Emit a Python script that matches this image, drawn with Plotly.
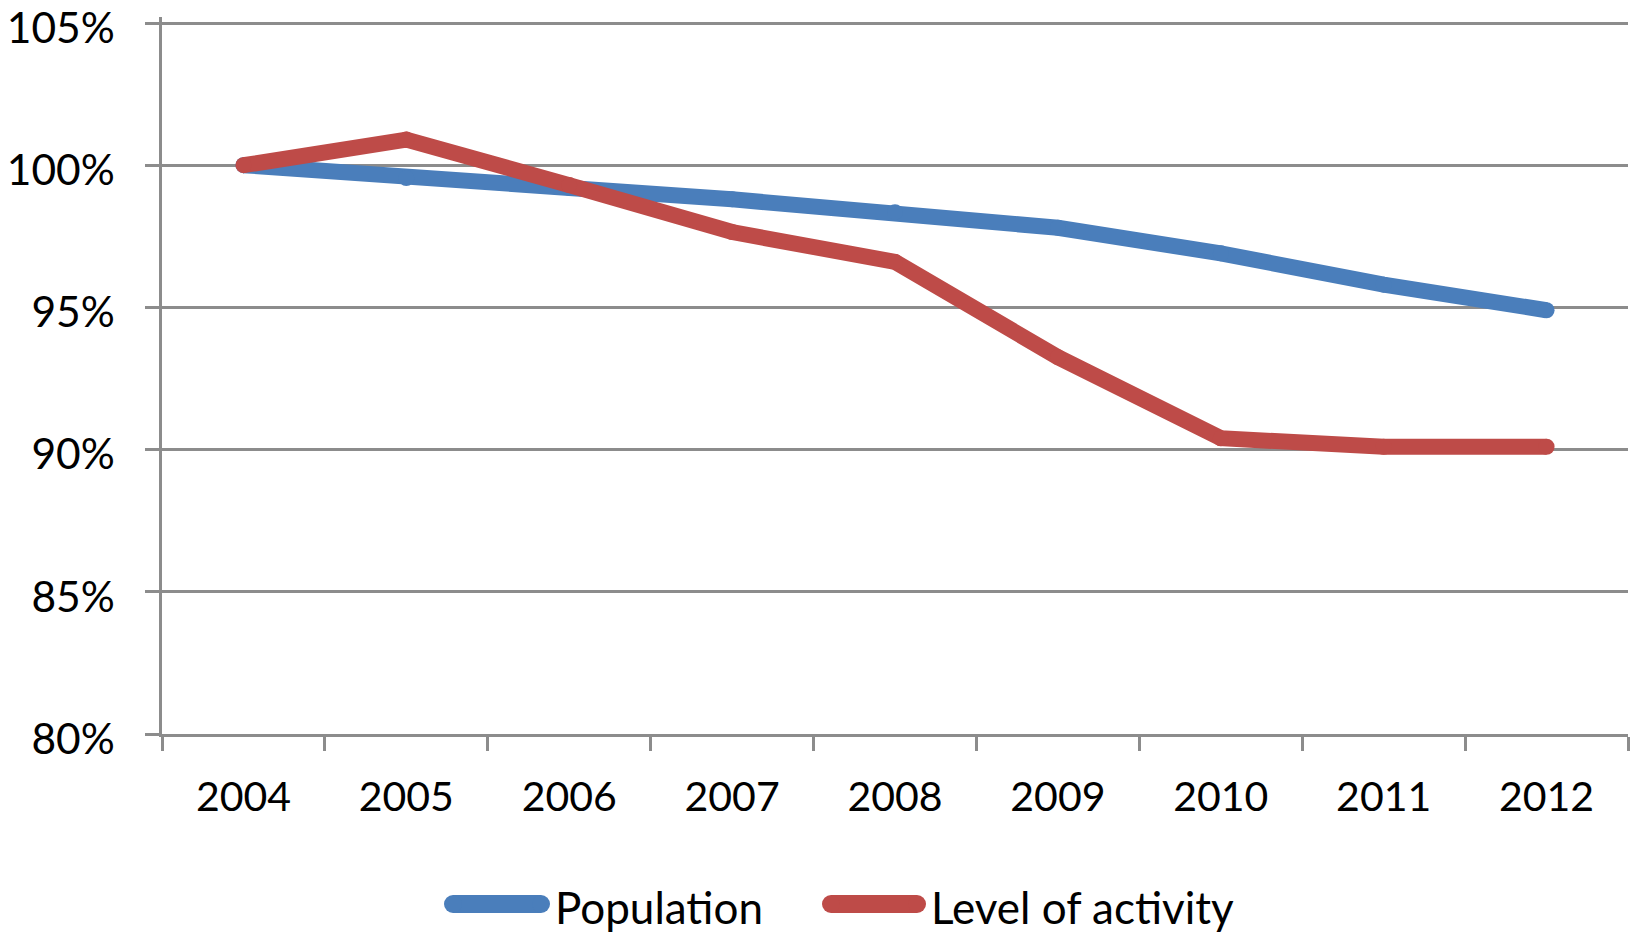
import plotly.graph_objects as go

years = ["2004", "2005", "2006", "2007", "2008", "2009", "2010", "2011", "2012"]
population = [100.0, 99.55, 99.2, 98.8, 98.35, 97.8, 96.9, 95.8, 94.9]
activity = [100.0, 100.9, 99.3, 97.65, 96.6, 93.25, 90.4, 90.1, 90.1]
y_ticks = [80, 85, 90, 95, 100, 105]

BLUE = "#4a7ebb"
RED = "#be4b48"
GRID = "#8c8c8c"
FONT = "Lato"

W, H = 1637, 932
Y_TOP_PX, Y_BOT_PX = 23, 734          # pixel rows of the 105% and 80% gridlines
L, R, T, B = 162, 9, 17, H - 734
PW, PH = W - L - R, H - T - B
ppu = (Y_BOT_PX - Y_TOP_PX) / (y_ticks[-1] - y_ticks[0])
y_max = y_ticks[-1] + (Y_TOP_PX - T) / ppu


def px_x(px):
    return (px - L) / PW


def px_y(py):
    return (H - B - py) / PH


fig = go.Figure()
series = [("Population", population, BLUE), ("Level of activity", activity, RED)]
for name, vals, col in series:
    fig.add_trace(go.Scatter(
        x=years, y=vals, name=name, mode="lines+markers",
        line=dict(color=col, width=16),
        marker=dict(color=col, size=16, line=dict(width=0)),
        showlegend=False, hoverinfo="skip",
    ))

# custom legend (thick rounded line symbols + text)
legend_items = [(444, 550, 553), (822, 926, 929)]
leg_y = 904
shapes = []
annotations = []
for (x0, x1, tx), (name, _, col) in zip(legend_items, series):
    shapes.append(dict(type="line", xref="paper", yref="paper",
                       x0=px_x(x0 + 9), x1=px_x(x1 - 9), y0=px_y(leg_y), y1=px_y(leg_y),
                       line=dict(color=col, width=18), layer="above"))
    for cx in (x0 + 9, x1 - 9):
        shapes.append(dict(type="circle", xref="paper", yref="paper",
                           xsizemode="pixel", ysizemode="pixel",
                           xanchor=px_x(cx), yanchor=px_y(leg_y),
                           x0=-9, x1=9, y0=-9, y1=9,
                           fillcolor=col, line=dict(width=0), layer="above"))
    annotations.append(dict(text=name, xref="paper", yref="paper",
                            x=px_x(tx), y=px_y(leg_y + 3), xanchor="left", yanchor="middle",
                            showarrow=False, font=dict(size=44, family=FONT, color="#000000")))

fig.update_layout(
    width=W, height=H,
    margin=dict(l=L, r=R, t=T, b=B),
    paper_bgcolor="white", plot_bgcolor="white",
    font=dict(family=FONT, size=41, color="#000000"),
    showlegend=False,
    shapes=shapes, annotations=annotations,
)
fig.update_xaxes(
    type="category", range=[-0.5, 8.5], automargin=False,
    showline=True, linecolor=GRID, linewidth=2.5,
    ticks="outside", ticklen=14, tickwidth=2.5, tickcolor=GRID,
    tickson="boundaries", showgrid=False,
    ticklabelstandoff=25,
    tickfont=dict(size=41, family=FONT),
)
fig.update_yaxes(
    range=[y_ticks[0], y_max], tickvals=y_ticks, ticktext=[f"{v}%" for v in y_ticks],
    automargin=False, ticklabeloverflow="allow", ticklabelshift=5,
    showline=True, linecolor=GRID, linewidth=2.5,
    ticks="outside", ticklen=14, tickwidth=2.5, tickcolor=GRID,
    showgrid=True, gridcolor=GRID, gridwidth=2.5,
    zeroline=False, ticklabelstandoff=22,
    tickfont=dict(size=42.5, family=FONT),
)

fig.write_html(
    "out.html",
    config={"displayModeBar": False},
    post_script="document.body.style.margin='0';document.body.style.overflow='hidden';",
)
